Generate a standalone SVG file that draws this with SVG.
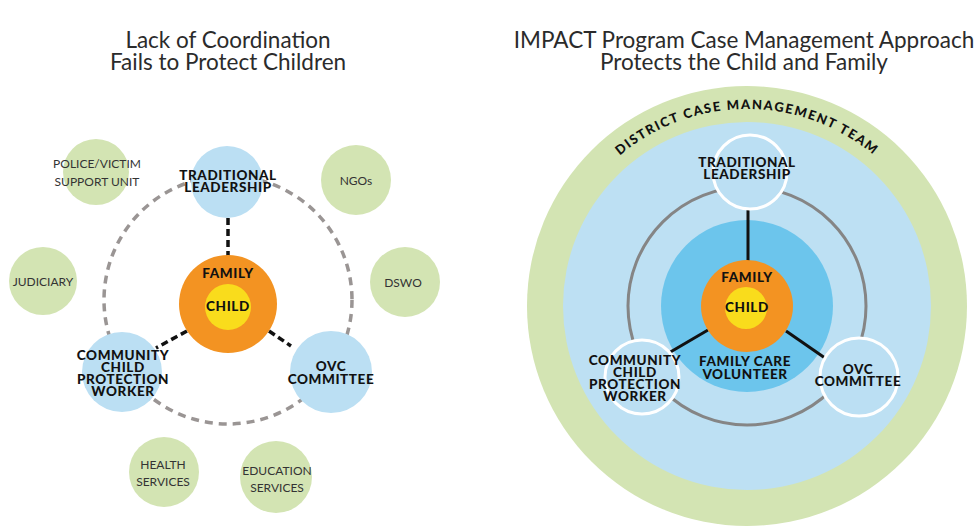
<svg xmlns="http://www.w3.org/2000/svg" width="977" height="526" viewBox="0 0 977 526">
  <defs>
    <style>
      .title { font-family: "Lato", "Open Sans", sans-serif; font-size: 22.5px; fill: #2b2b2b; text-anchor: middle; }
      .lbl { font-family: "Lato", "Liberation Sans", sans-serif; font-weight: 900; font-size: 13.5px; fill: #111; text-anchor: middle; letter-spacing: 0.6px; }
      .svc { font-family: "Lato", "Liberation Sans", sans-serif; font-size: 12px; fill: #333; text-anchor: middle; }
      .green { fill: #d3e4b3; }
      .blue { fill: #bbdff3; }
      .orange { fill: #f39322; }
      .yellow { fill: #f9dc1c; }
      .ring { fill: none; stroke: #9a9594; stroke-width: 3.5; stroke-dasharray: 8 6; }
      .dlink { stroke: #111; stroke-width: 3.5; stroke-dasharray: 7 4; fill: none; }
      .slink { stroke: #111; stroke-width: 3; fill: none; }
      .member { fill: #bbdff3; stroke: #ffffff; stroke-width: 3; }
    </style>
    <path id="teamArc" d="M 550 306 A 197 197 0 0 1 944 306"/>
  </defs>

  <rect width="977" height="526" fill="#ffffff"/>

  <!-- Titles -->
  <text class="title" x="228" y="48">Lack of Coordination</text>
  <text class="title" x="228" y="70">Fails to Protect Children</text>
  <text class="title" x="744" y="48">IMPACT Program Case Management Approach</text>
  <text class="title" x="744" y="70">Protects the Child and Family</text>

  <!-- ===== Left: uncoordinated services ===== -->
  <circle class="ring" cx="228" cy="300" r="124"/>

  <g id="connectors-left">
    <line class="dlink" x1="228" y1="218" x2="228" y2="256"/>
    <line class="dlink" x1="187" y1="331" x2="156" y2="348"/>
    <line class="dlink" x1="269" y1="331" x2="291" y2="346"/>
  </g>

  <g id="left-police">
    <circle class="green" cx="96" cy="172" r="33"/>
    <text class="svc" x="97" y="168">POLICE/VICTIM</text>
    <text class="svc" x="97" y="186">SUPPORT UNIT</text>
  </g>
  <g id="left-ngos">
    <circle class="green" cx="356" cy="180" r="35"/>
    <text class="svc" x="356" y="185">NGOs</text>
  </g>
  <g id="left-judiciary">
    <circle class="green" cx="43" cy="281" r="34"/>
    <text class="svc" x="43" y="286">JUDICIARY</text>
  </g>
  <g id="left-dswo">
    <circle class="green" cx="405" cy="282" r="35"/>
    <text class="svc" x="403" y="287">DSWO</text>
  </g>
  <g id="left-health">
    <circle class="green" cx="164" cy="472" r="35"/>
    <text class="svc" x="163" y="469">HEALTH</text>
    <text class="svc" x="163" y="486">SERVICES</text>
  </g>
  <g id="left-education">
    <circle class="green" cx="276" cy="477" r="36"/>
    <text class="svc" x="277" y="475">EDUCATION</text>
    <text class="svc" x="277" y="492">SERVICES</text>
  </g>

  <g id="left-traditional">
    <circle class="blue" cx="227" cy="182" r="36"/>
    <text class="lbl" x="228" y="180">TRADITIONAL</text>
    <text class="lbl" x="228" y="192">LEADERSHIP</text>
  </g>
  <g id="left-family">
    <circle class="orange" cx="228" cy="304" r="49"/>
    <circle class="yellow" cx="228" cy="307" r="23"/>
    <text class="lbl" x="228" y="278">FAMILY</text>
    <text class="lbl" x="228" y="311">CHILD</text>
  </g>
  <g id="left-worker">
    <circle class="blue" cx="122" cy="372" r="40"/>
    <text class="lbl" x="123" y="360">COMMUNITY</text>
    <text class="lbl" x="123" y="372">CHILD</text>
    <text class="lbl" x="123" y="384">PROTECTION</text>
    <text class="lbl" x="123" y="396">WORKER</text>
  </g>
  <g id="left-ovc">
    <circle class="blue" cx="331" cy="372" r="41"/>
    <text class="lbl" x="331" y="371">OVC</text>
    <text class="lbl" x="331" y="384">COMMITTEE</text>
  </g>

  <!-- ===== Right: case management rings ===== -->
  <g id="district-team">
    <circle class="green" cx="747" cy="306" r="220"/>
    <text class="lbl" style="font-size:13px; letter-spacing:1.6px;">
      <textPath href="#teamArc" startOffset="50%">DISTRICT CASE MANAGEMENT TEAM</textPath>
    </text>
  </g>
  <circle cx="747" cy="306" r="184" fill="#bde0f3"/>
  <circle cx="747" cy="306" r="86" fill="#6cc5ec"/>
  <circle cx="747" cy="306" r="119" fill="none" stroke="#858585" stroke-width="3"/>

  <g id="connectors-right">
    <line class="slink" x1="748" y1="210" x2="748" y2="262"/>
    <line class="slink" x1="708" y1="330" x2="667" y2="354"/>
    <line class="slink" x1="786" y1="331" x2="825" y2="358"/>
  </g>

  <g id="right-volunteer">
    <text class="lbl" x="745" y="366">FAMILY CARE</text>
    <text class="lbl" x="745" y="379">VOLUNTEER</text>
  </g>
  <g id="right-family">
    <circle class="orange" cx="747" cy="306" r="46"/>
    <circle class="yellow" cx="746" cy="308" r="21"/>
    <text class="lbl" x="747" y="282">FAMILY</text>
    <text class="lbl" x="747" y="312">CHILD</text>
  </g>
  <g id="right-traditional">
    <circle class="member" cx="750" cy="172" r="37"/>
    <text class="lbl" x="747" y="167">TRADITIONAL</text>
    <text class="lbl" x="747" y="179">LEADERSHIP</text>
  </g>
  <g id="right-worker">
    <circle class="member" cx="642" cy="377" r="37"/>
    <text class="lbl" x="635" y="365">COMMUNITY</text>
    <text class="lbl" x="635" y="377">CHILD</text>
    <text class="lbl" x="635" y="389">PROTECTION</text>
    <text class="lbl" x="635" y="401">WORKER</text>
  </g>
  <g id="right-ovc">
    <circle class="member" cx="859" cy="377" r="39"/>
    <text class="lbl" x="858" y="374">OVC</text>
    <text class="lbl" x="858" y="386">COMMITTEE</text>
  </g>
</svg>
